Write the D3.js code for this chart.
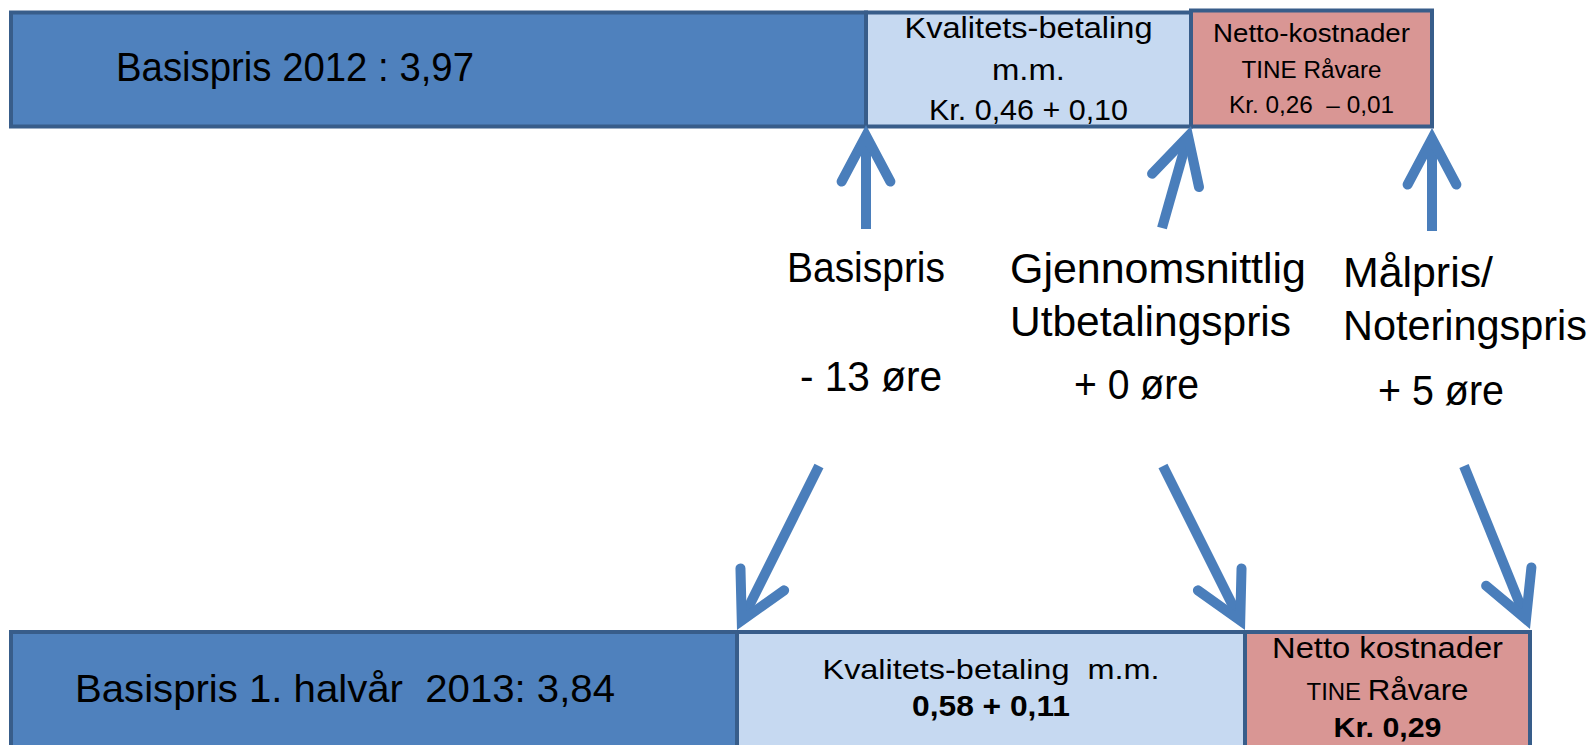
<!DOCTYPE html>
<html>
<head>
<meta charset="utf-8">
<script src="https://cdn.jsdelivr.net/npm/d3@7"></script>
<style>
  body { margin: 0; background: #fff; overflow: hidden; }
  svg { display: block; }
  text { font-family: "Liberation Sans", Arial, sans-serif; fill: #000; white-space: pre; }
</style>
</head>
<body>
<div id="chart"></div>
<script>
// milk price components, kr per litre (2012 vs 1. halvaar 2013)
var periods     = ["2012", "1. halvår  2013"];
var basisPrice  = [3.97, 3.84];
var qualityPay  = [[0.46, 0.10], [0.58, 0.11]];
var netCost     = [[0.26, -0.01], [0.29]];

// changes from 2012 to 2013, in oere
var changeNames = [["Basispris"], ["Gjennomsnittlig", "Utbetalingspris"], ["Målpris/", "Noteringspris"]];
var changeOre   = [-13, 0, 5];

var W = 1594, H = 745;

// schematic layout (segment widths are not to scale)
var topEdges = [11, 866, 1191, 1432];
var botEdges = [11, 737, 1245, 1530];

var x = d3.scaleLinear().domain([0, 1594]).range([0, W]);
var y = d3.scaleLinear().domain([0, 745]).range([0, H]);

var colors = ["#4f81bd", "#c6d9f1", "#d99694"];
var border = "#385d8a";
var arrowColor = "#4a7ebb";

var no = d3.formatLocale({decimal: ",", thousands: " ", grouping: [3], currency: ["kr ", ""]});
var kr = no.format(".2f");
function signed(v) { return (v < 0 ? "\u2013 " : "+ ") + kr(Math.abs(v)); }
function ore(v) { return (v < 0 ? "- " : "+ ") + Math.abs(v) + " øre"; }

var svg = d3.select("#chart").append("svg")
    .attr("width", W)
    .attr("height", H);

// draw one bar made of three segments
function drawBar(edges, top, bottom, redTop) {
  var g = svg.append("g");
  g.selectAll("rect")
      .data(colors)
    .enter().append("rect")
      .attr("x", function(d, i) { return x(edges[i]); })
      .attr("y", function(d, i) { return y(i == 2 ? redTop : top); })
      .attr("width", function(d, i) { return x(edges[i + 1]) - x(edges[i]); })
      .attr("height", function(d, i) { return y(bottom) - y(i == 2 ? redTop : top); })
      .attr("fill", function(d) { return d; })
      .attr("stroke", border)
      .attr("stroke-width", 4);
  return g;
}

// a text line; w is the measured width, so glyphs get squeezed/stretched to it
function label(g, s) {
  var t = g.append("text")
      .attr("x", x(s.x))
      .attr("y", y(s.y))
      .attr("font-size", s.size)
      .attr("text-anchor", s.anchor || "start")
      .attr("font-weight", s.bold ? "bold" : null);
  if (s.parts) {
    s.parts.forEach(function(p) {
      t.append("tspan").attr("font-size", p[1]).text(p[0]);
    });
  } else {
    t.text(s.text);
  }
  if (s.w) t.attr("textLength", s.w).attr("lengthAdjust", "spacingAndGlyphs");
  return t;
}

var topBar = drawBar(topEdges, 12.5, 126.5, 10.5);
var botBar = drawBar(botEdges, 632, 775, 632);

var tq = (topEdges[1] + topEdges[2]) / 2, tn = (topEdges[2] + topEdges[3]) / 2;
var bq = (botEdges[1] + botEdges[2]) / 2, bn = (botEdges[2] + botEdges[3]) / 2;

label(topBar, {text: "Basispris " + periods[0] + " : " + kr(basisPrice[0]), x: 116, y: 81, size: 41, w: 358});
label(topBar, {text: "Kvalitets-betaling", x: tq, y: 38, size: 30, anchor: "middle", w: 248});
label(topBar, {text: "m.m.", x: tq, y: 80, size: 30, anchor: "middle", w: 73});
label(topBar, {text: "Kr. " + kr(qualityPay[0][0]) + " " + signed(qualityPay[0][1]), x: tq, y: 120, size: 30, anchor: "middle", w: 199});
label(topBar, {text: "Netto-kostnader", x: tn, y: 42, size: 25.5, anchor: "middle", w: 197});
label(topBar, {text: "TINE Råvare", x: tn, y: 78, size: 24.5, anchor: "middle", w: 140});
label(topBar, {text: "Kr. " + kr(netCost[0][0]) + "  " + signed(netCost[0][1]), x: tn, y: 113, size: 24.5, anchor: "middle", w: 165});

label(botBar, {text: "Basispris " + periods[1] + ": " + kr(basisPrice[1]), x: 75, y: 702, size: 39, w: 540});
label(botBar, {text: "Kvalitets-betaling  m.m.", x: bq, y: 679, size: 28, anchor: "middle", w: 337});
label(botBar, {text: kr(qualityPay[1][0]) + " " + signed(qualityPay[1][1]), x: bq, y: 716, size: 29, anchor: "middle", bold: true, w: 158});
label(botBar, {text: "Netto kostnader", x: bn, y: 658, size: 30, anchor: "middle", w: 231});
label(botBar, {parts: [["TINE ", 23], ["Råvare", 30]], x: bn, y: 700, size: 30, anchor: "middle", w: 162});
label(botBar, {text: "Kr. " + kr(netCost[1][0]), x: bn, y: 737, size: 28, anchor: "middle", bold: true, w: 108});

// change labels between the bars
var mid = svg.append("g");
var nameSpec = [
  [{x: 787, y: 282, w: 158}],
  [{x: 1010, y: 283, w: 296}, {x: 1010, y: 336, w: 281}],
  [{x: 1343, y: 287, w: 150}, {x: 1343, y: 340, w: 244}]
];
var valueSpec = [{x: 800, y: 391, w: 142}, {x: 1074, y: 399, w: 125}, {x: 1378, y: 405, w: 126}];

changeNames.forEach(function(lines, i) {
  lines.forEach(function(s, j) {
    var p = nameSpec[i][j];
    label(mid, {text: s, x: p.x, y: p.y, size: 42, w: p.w});
  });
  label(mid, {text: ore(changeOre[i]), x: valueSpec[i].x, y: valueSpec[i].y, size: 42, w: valueSpec[i].w});
});

// arrows: up to the top bar boundaries, down to the bottom bar boundaries
var upArrows = [
  {from: [866, 229], to: [topEdges[1], 125]},
  {from: [1162, 228], to: [topEdges[2], 126]},
  {from: [1432, 231], to: [topEdges[3], 128]}
];
var downArrows = [
  {from: [819, 466], to: [botEdges[1], 630]},
  {from: [1163, 466], to: [botEdges[2], 630]},
  {from: [1464, 466], to: [botEdges[3], 629]}
];

var line = d3.line()
    .x(function(d) { return x(d[0]); })
    .y(function(d) { return y(d[1]); });

var sw = 10, headLen = 52, headAng = 28 * Math.PI / 180;

function arrowParts(a) {
  var dx = a.to[0] - a.from[0], dy = a.to[1] - a.from[1];
  var len = Math.sqrt(dx * dx + dy * dy);
  var ux = dx / len, uy = dy / len;
  var back = (sw / 2) / Math.sin(headAng);
  var v = [a.to[0] - ux * back, a.to[1] - uy * back];
  function wing(s) {
    var c = Math.cos(s * headAng), sn = Math.sin(s * headAng);
    var rx = ux * c - uy * sn, ry = ux * sn + uy * c;
    return [v[0] - rx * headLen, v[1] - ry * headLen];
  }
  return {
    shaft: [a.from, [v[0] - ux * 2, v[1] - uy * 2]],
    head: [wing(1), v, wing(-1)]
  };
}

var arrows = svg.append("g")
    .attr("fill", "none")
    .attr("stroke", arrowColor)
    .attr("stroke-width", sw);

var parts = upArrows.concat(downArrows).map(arrowParts);

arrows.selectAll("path.shaft")
    .data(parts)
  .enter().append("path")
    .attr("class", "shaft")
    .attr("d", function(d) { return line(d.shaft); });

arrows.selectAll("path.head")
    .data(parts)
  .enter().append("path")
    .attr("class", "head")
    .attr("stroke-linecap", "round")
    .attr("stroke-linejoin", "miter")
    .attr("d", function(d) { return line(d.head); });
</script>
</body>
</html>
